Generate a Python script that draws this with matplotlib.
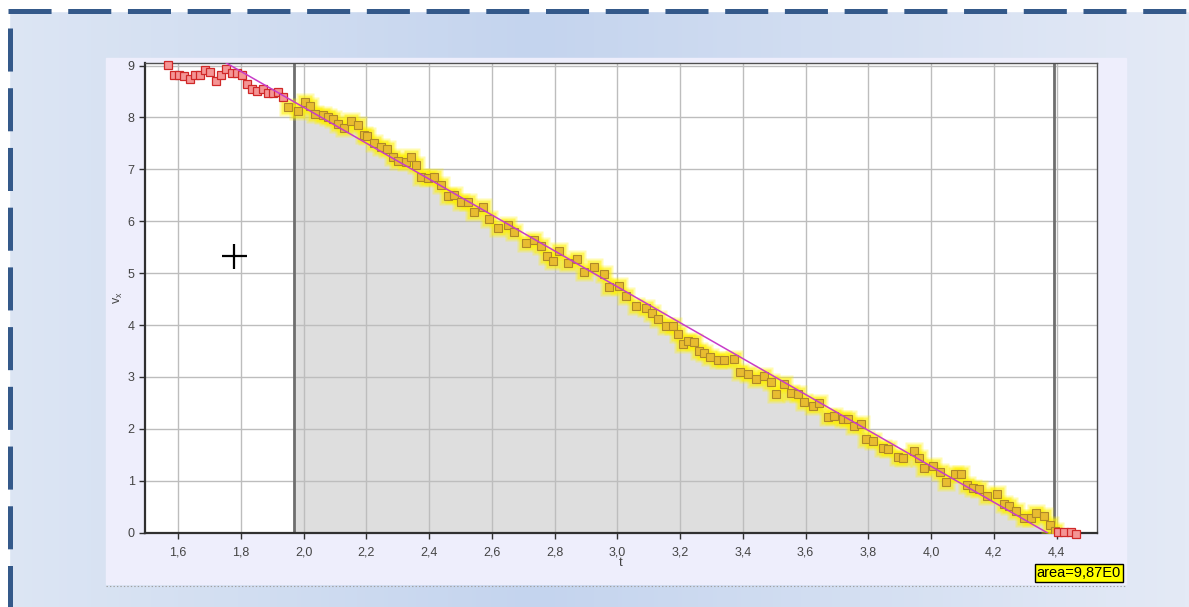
import matplotlib.pyplot as plt
import numpy as np
from matplotlib.ticker import FuncFormatter, MultipleLocator

plt.rcParams['lines.scale_dashes'] = False
plt.rcParams['font.family'] = ['Liberation Sans', 'DejaVu Sans']

# measured points before the selected range (red)
t_pre = [1.568, 1.587, 1.603, 1.619, 1.638, 1.654, 1.670, 1.686, 1.702, 1.721,
         1.737, 1.753, 1.772, 1.788, 1.804, 1.820, 1.836, 1.852, 1.871, 1.887,
         1.903, 1.919, 1.935]
v_pre = [9.02, 8.81, 8.81, 8.79, 8.75, 8.82, 8.81, 8.92, 8.88, 8.70,
         8.81, 8.93, 8.85, 8.85, 8.81, 8.64, 8.54, 8.52, 8.54, 8.47,
         8.47, 8.49, 8.39]

# selected points (yellow)
t_sel = [1.951, 1.983, 2.005, 2.021, 2.037, 2.060, 2.076, 2.092, 2.108, 2.127,
         2.152, 2.172, 2.191, 2.203, 2.223, 2.245, 2.267, 2.286, 2.302, 2.325,
         2.341, 2.357, 2.373, 2.395, 2.414, 2.437, 2.459, 2.478, 2.500, 2.523,
         2.542, 2.571, 2.590, 2.619, 2.650, 2.670, 2.708, 2.733, 2.756, 2.775,
         2.794, 2.813, 2.842, 2.871, 2.893, 2.925, 2.957, 2.973, 3.005, 3.027,
         3.059, 3.091, 3.110, 3.129, 3.155, 3.177, 3.193, 3.209, 3.225, 3.244,
         3.260, 3.276, 3.295, 3.321, 3.340, 3.372, 3.391, 3.417, 3.442, 3.468,
         3.490, 3.506, 3.532, 3.554, 3.576, 3.596, 3.624, 3.643, 3.672, 3.691,
         3.720, 3.736, 3.755, 3.778, 3.794, 3.816, 3.848, 3.864, 3.896, 3.912,
         3.944, 3.960, 3.979, 4.007, 4.027, 4.049, 4.075, 4.097, 4.113, 4.135,
         4.154, 4.177, 4.209, 4.231, 4.250, 4.272, 4.295, 4.320, 4.336, 4.359,
         4.378, 4.394]
v_sel = [8.20, 8.13, 8.29, 8.23, 8.07, 8.05, 8.00, 7.97, 7.88, 7.79,
         7.94, 7.86, 7.67, 7.64, 7.50, 7.44, 7.40, 7.23, 7.17, 7.14,
         7.23, 7.09, 6.85, 6.83, 6.85, 6.70, 6.49, 6.51, 6.38, 6.38,
         6.18, 6.27, 6.05, 5.88, 5.92, 5.79, 5.59, 5.64, 5.53, 5.34,
         5.24, 5.43, 5.19, 5.28, 5.02, 5.11, 4.99, 4.74, 4.76, 4.57,
         4.37, 4.32, 4.24, 4.12, 3.99, 3.99, 3.83, 3.64, 3.70, 3.67,
         3.51, 3.47, 3.39, 3.33, 3.33, 3.35, 3.09, 3.06, 2.97, 3.02,
         2.90, 2.68, 2.87, 2.70, 2.68, 2.51, 2.45, 2.49, 2.22, 2.25,
         2.20, 2.20, 2.05, 2.10, 1.81, 1.77, 1.64, 1.62, 1.45, 1.43,
         1.58, 1.43, 1.25, 1.29, 1.16, 0.97, 1.14, 1.14, 0.91, 0.87,
         0.85, 0.71, 0.75, 0.56, 0.52, 0.42, 0.29, 0.29, 0.37, 0.33,
         0.15, 0.04]

# points after the selection (red)
t_post = [4.405, 4.425, 4.445, 4.462]
v_post = [0.02, 0.01, 0.02, -0.03]

# linear fit
fit_t = [1.753, 4.370]
fit_v = [9.05, 0.00]

# selection borders
sel_start = 1.970
sel_end = 4.393
cursor = (1.779, 5.34)
area_text = 'area=9,87E0'

W, H = 1189, 607
fig = plt.figure(figsize=(W / 100, H / 100), dpi=100)

# background gradient
bg = fig.add_axes([0, 0, 1, 1])
bg.set_xlim(0, W)
bg.set_ylim(H, 0)
bg.axis('off')
c0 = np.array([0xDD, 0xE6, 0xF4]) / 255
c1 = np.array([0xC4, 0xD4, 0xEE]) / 255
c2 = np.array([0xE4, 0xEA, 0xF6]) / 255
xs = np.linspace(0, 1, 300)
grad = np.zeros((1, 300, 3))
for i, x in enumerate(xs):
    if x < 0.45:
        f = x / 0.45
        grad[0, i] = c0 * (1 - f) + c1 * f
    else:
        f = (x - 0.45) / 0.55
        grad[0, i] = c1 * (1 - f) + c2 * f
bg.imshow(grad, extent=[0, W, H, 0], aspect='auto')
# white strip behind the dashed border
bg.fill_between([0, W], 0, 11, color='white', zorder=1)
bg.fill_between([0, 9], 0, H, color='white', zorder=1)
bg.plot([8, W], [11, 11], color='#34598A', lw=3.6, dashes=(31, 12), zorder=2,
        dash_capstyle='butt')
bg.plot([10, 10], [28, H], color='#34598A', lw=3.6, dashes=(31, 12), zorder=2,
        dash_capstyle='butt')
# inner panel
bg.add_patch(plt.Rectangle((106, 58), 1020, 526, color='#EEEEFC', zorder=3))
bg.plot([106, 1126], [586, 586], color='#A0A0A0', lw=0.8, ls=(0, (1, 1.5)), zorder=3)

ax = fig.add_axes([145 / W, 1 - 532.7 / H, (1097 - 145) / W, (532.7 - 63) / H])
ax.set_facecolor('white')
ax.set_xlim(1.494, 4.529)
ax.set_ylim(0, 9.05)

ax.xaxis.set_major_locator(MultipleLocator(0.2))
ax.yaxis.set_major_locator(MultipleLocator(1))
ax.xaxis.set_major_formatter(FuncFormatter(lambda v, p: f'{v:.1f}'.replace('.', ',')))
ax.yaxis.set_major_formatter(FuncFormatter(lambda v, p: f'{v:.0f}'))
ax.grid(True, color='#BDBDBD', lw=1, zorder=0.5)
ax.set_axisbelow(True)

# shaded area under the selection, clipped to the selection borders
ts = np.array(t_sel)
vs = np.array(v_sel)
shade = ax.fill_between(ts, 0, vs, color='#DEDEDE', zorder=0.2, lw=0)
clip = plt.Rectangle((sel_start, -1), sel_end - sel_start, 20,
                     transform=ax.transData, visible=False)
ax.add_patch(clip)
shade.set_clip_path(clip)
ax.axvline(sel_start, color='#6E6E6E', lw=2, zorder=2)
ax.axvline(sel_end, color='#6E6E6E', lw=2, zorder=2)

# glow + selected points
ax.plot(t_sel, v_sel, ls='none', marker='s', ms=13, mfc='#FFF200', mec='none',
        alpha=0.3, zorder=3)
ax.plot(t_sel, v_sel, ls='none', marker='s', ms=10, mfc='#FFF000', mec='none',
        alpha=0.5, zorder=3)
ax.plot(t_sel, v_sel, ls='none', marker='s', ms=6, mfc='#E8BC30', mec='#B08828',
        mew=0.8, zorder=4)
ax.plot(t_pre, v_pre, ls='none', marker='s', ms=6, mfc='#F49595', mec='#D02828',
        mew=0.9, zorder=4, clip_on=False)
ax.plot(t_post, v_post, ls='none', marker='s', ms=6, mfc='#F49595', mec='#D02828',
        mew=0.9, zorder=4, clip_on=False)
ax.plot(fit_t, fit_v, color='#C83CC8', lw=1.1, zorder=5)

ax.plot(*cursor, marker='+', ms=18, mew=1.6, color='black', zorder=6)

for s in ['left', 'bottom']:
    ax.spines[s].set_color('#303030')
    ax.spines[s].set_linewidth(1.6)
for s in ['top', 'right']:
    ax.spines[s].set_color('#505050')
    ax.spines[s].set_linewidth(1.0)
ax.tick_params(axis='both', colors='#303030', labelcolor='#444444', labelsize=9,
               length=4, width=1)
ax.tick_params(axis='x', pad=6)

ax.set_xlabel('t', fontsize=9.5, color='#444444', labelpad=-1)
ax.set_ylabel(r'v$_\mathregular{x}$', fontsize=9, color='#444444', labelpad=2)

fig.text(1121 / W, 1 - 573 / H, area_text, ha='right', va='center', fontsize=10.5,
         color='black',
         bbox=dict(boxstyle='square,pad=0.15', fc='#FFFF00', ec='black', lw=1))

fig.savefig('out.png', dpi=100)
